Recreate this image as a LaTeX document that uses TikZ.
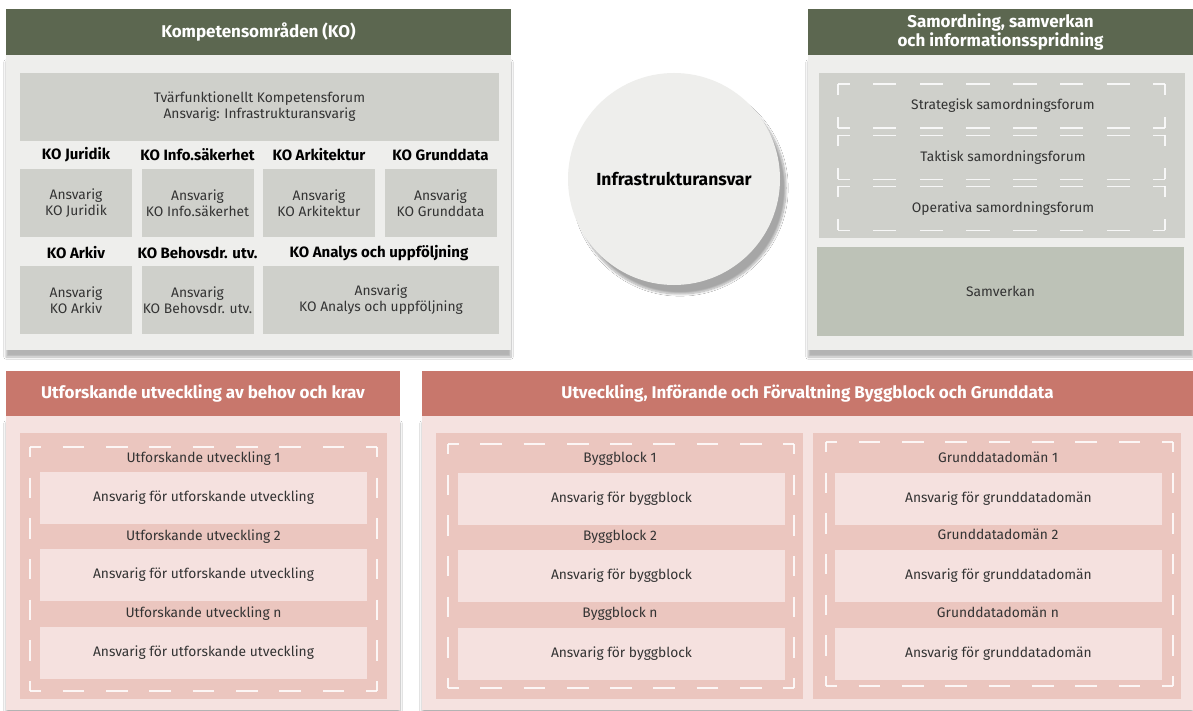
\documentclass[tikz,border=0pt]{standalone}
\usepackage{fontspec}
\setmainfont{Fira Sans}
\usetikzlibrary{shadows.blur}
\definecolor{kogreen}{HTML}{5C6750}
\definecolor{kobody}{HTML}{EEEEEC}
\definecolor{kobox}{HTML}{CFD0CB}
\definecolor{samv}{HTML}{BDC2B7}
\definecolor{utred}{HTML}{C8776C}
\definecolor{utbody}{HTML}{F5E2E0}
\definecolor{utbox}{HTML}{EBC6BF}
\definecolor{utitem}{HTML}{F5E1DF}
\definecolor{txt}{HTML}{333333}
\newcommand\dashedframe[4]{%
    \pgfmathsetmacro\dashw{((#3)-(#1))/round(((#3)-(#1))/44)/2}%
    \pgfmathsetmacro\dashwq{\dashw/2}%
    \pgfmathsetmacro\dashh{((#4)-(#2))/round(((#4)-(#2))/44)/2}%
    \pgfmathsetmacro\dashhq{\dashh/2}%
    \draw[dashframe, dash pattern=on \dashw pt off \dashw pt, dash phase=\dashwq pt] (#1,#2) -- (#3,#2) (#1,#4) -- (#3,#4);
    \draw[dashframe, dash pattern=on \dashh pt off \dashh pt, dash phase=\dashhq pt] (#1,#2) -- (#1,#4) (#3,#2) -- (#3,#4);
}
\begin{document}
\begin{tikzpicture}[x=1pt, y=-1pt,
    box/.style={inner sep=0pt, align=center, text=txt, font=\fontsize{13.8}{16}\selectfont},
    header/.style={box, text=white, font=\fontsize{17}{19}\selectfont\bfseries},
    lbl/.style={inner sep=0pt, font=\fontsize{15}{17}\selectfont\bfseries},
    dashframe/.style={draw=white, draw opacity=0.85, line width=1.1pt},
    panel/.style={box, blur shadow={shadow xshift=0pt, shadow yshift=-7pt, shadow blur steps=10, shadow opacity=30}}]
    \useasboundingbox[fill=white] (0,0) rectangle (1193,711);
    \node[panel, fill=kobody, minimum width=505pt, minimum height=295pt] (kobody) at (258.5,202.5) {};
    \node[header, fill=kogreen, minimum width=505pt, minimum height=46pt] (kohead) at (258.5,32) {Kompetensområden (KO)};
    \node[box, fill=kobox, minimum width=479pt, minimum height=68pt] (forum) at (259.5,107) {Tvärfunktionellt Kompetensforum\\Ansvarig: Infrastrukturansvarig};
    \foreach \x/\n/\t in {76/jur/Juridik, 197.5/info/Info.säkerhet, 319/ark/Arkitektur, 440.5/gd/Grunddata} {
        \node[lbl] (lbl\n) at (\x,155) {KO \t};
        \node[box, fill=kobox, minimum width=112pt, minimum height=68pt] (ko\n) at (\x,203) {Ansvarig\\KO \t};
    }
    \foreach \x/\n/\t in {76/arkiv/Arkiv, 197.5/beh/Behovsdr. utv.} {
        \node[lbl] (lbl\n) at (\x,253) {KO \t};
        \node[box, fill=kobox, minimum width=112pt, minimum height=68pt] (ko\n) at (\x,300) {Ansvarig\\KO \t};
    }
    \node[lbl] (lblanalys) at (379,253) {KO Analys och uppföljning};
    \node[box, fill=kobox, minimum width=236pt, minimum height=68pt] (koanalys) at (381,300) {Ansvarig\\KO Analys och uppföljning};

    \node[circle, fill=kobody, minimum size=212pt, inner sep=0pt, font=\fontsize{17.5}{19}\selectfont\bfseries,
        blur shadow={shadow xshift=6pt, shadow yshift=-9pt, shadow blur steps=12, shadow opacity=35}] (infra) at (674,179) {Infrastrukturansvar};

    \node[panel, fill=kobody, minimum width=385pt, minimum height=295pt] (sambody) at (1000.5,202.5) {};
    \node[header, fill=kogreen, minimum width=385pt, minimum height=46pt] (samhead) at (1000.5,32) {Samordning, samverkan\\och informationsspridning};
    \node[box, fill=kobox, minimum width=366pt, minimum height=165pt] (forumstack) at (1002,155.5) {};
    \foreach \y/\n/\t in {106/strat/Strategisk, 157.5/takt/Taktisk, 208.5/oper/Operativa} {
        \dashedframe{838}{\y-22}{1165}{\y+22}
        \node[box] (\n) at (1003,\y) {\t\ samordningsforum};
    }
    \node[box, fill=samv, minimum width=367pt, minimum height=89pt] (samverkan) at (1000.5,291.5) {Samverkan};

    \node[panel, fill=utbody, minimum width=394pt, minimum height=294pt] (utfbody) at (203,563) {};
    \node[header, fill=utred, minimum width=394pt, minimum height=45pt] (utfhead) at (203,393.5) {Utforskande utveckling av behov och krav};
    \node[box, fill=utbox, minimum width=367pt, minimum height=266pt] (utfstack) at (203.5,566) {};
    \dashedframe{30}{447}{377}{691}
    \foreach \i [count=\k from 0] in {1,2,n} {
        \node[box] (utft\i) at (203.5,{459+77.5*\k}) {Utforskande utveckling \i};
        \node[box, fill=utitem, minimum width=327pt, minimum height=52pt] (utfb\i) at (203.5,{497.5+77.5*\k}) {Ansvarig för utforskande utveckling};
    }

    \node[panel, fill=utbody, minimum width=771pt, minimum height=294pt] (uifbody) at (807.5,563) {};
    \node[header, fill=utred, minimum width=771pt, minimum height=45pt] (uifhead) at (807.5,393.5) {Utveckling, Införande och Förvaltning Byggblock och Grunddata};
    \node[box, fill=utbox, minimum width=367pt, minimum height=266pt] (bbstack) at (619.5,566) {};
    \dashedframe{448}{444}{794}{688}
    \foreach \i [count=\k from 0] in {1,2,n} {
        \node[box] (bbt\i) at (620,{459+77.5*\k}) {Byggblock \i};
        \node[box, fill=utitem, minimum width=327pt, minimum height=52pt] (bbb\i) at (621.5,{498.5+77.5*\k}) {Ansvarig för byggblock};
    }
    \node[box, fill=utbox, minimum width=368pt, minimum height=266pt] (gdstack) at (997,566) {};
    \dashedframe{826}{442}{1173}{686}
    \foreach \i [count=\k from 0] in {1,2,n} {
        \node[box] (gdt\i) at (998,{457+77.5*\k}) {Grunddatadomän \i};
        \node[box, fill=utitem, minimum width=327pt, minimum height=52pt] (gdb\i) at (998.5,{498.5+77.5*\k}) {Ansvarig för grunddatadomän};
    }
\end{tikzpicture}
\end{document}
